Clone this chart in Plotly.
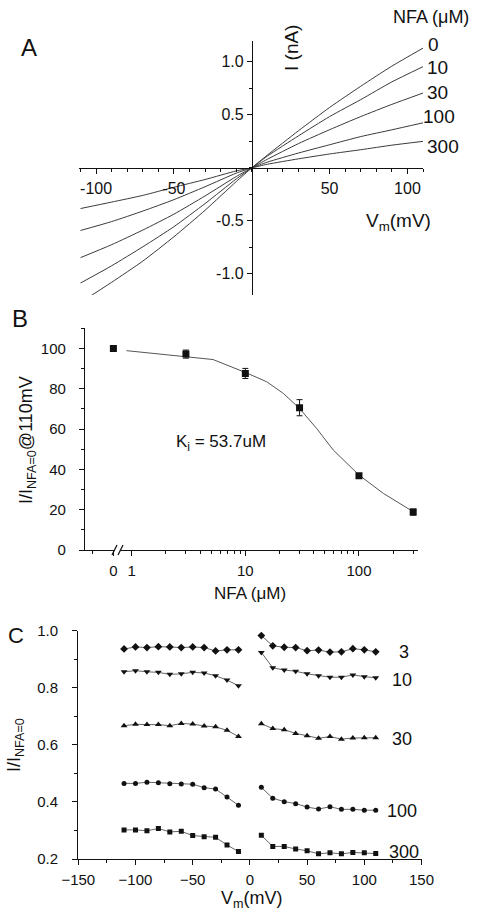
import plotly.graph_objects as go

W, H = 481, 913

# ---------------- Panel A data (I-V curves) ----------------
vm_a = [-110, -90, -70, -50, -30, -10, 0, 10, 30, 50, 70, 90, 110]
i_nfa0 = [-1.27, -1.08, -0.88, -0.65, -0.40, -0.13, 0, 0.12, 0.35, 0.57, 0.77, 0.96, 1.13]
i_nfa10 = [-1.087, -0.924, -0.745, -0.555, -0.337, -0.105, 0, 0.111, 0.302, 0.484, 0.644, 0.811, 0.955]
i_nfa30 = [-0.847, -0.725, -0.587, -0.437, -0.265, -0.082, 0, 0.081, 0.229, 0.360, 0.484, 0.599, 0.706]
i_nfa100 = [-0.591, -0.507, -0.408, -0.300, -0.178, -0.050, 0, 0.054, 0.140, 0.218, 0.295, 0.359, 0.425]
i_nfa300 = [-0.384, -0.323, -0.260, -0.183, -0.110, -0.029, 0, 0.034, 0.085, 0.131, 0.171, 0.214, 0.250]
a_labels = ["0", "10", "30", "100", "300"]

# ---------------- Panel B data (dose response) ----------------
nfa_b = [0, 3, 10, 30, 100, 300]
rel_b = [100, 97.2, 87.6, 70.6, 36.9, 18.8]
err_b = [0, 2.0, 2.5, 4.0, 1.0, 1.5]
fit_x = [0.9, 3.05, 5.2, 10, 15.4, 21.6, 30, 42.4, 59.4, 100, 163.7, 300]
fit_y = [98.9, 95.8, 94.5, 88.1, 83.5, 77.7, 70.2, 60.3, 49.6, 37.2, 28.1, 19.0]
ZERO_POS = 0.69  # where "0" sits on the broken log axis
ki_text = "K<sub>i</sub> = 53.7uM"

# ---------------- Panel C data (relative current vs Vm) ----------------
vm_neg = [-110, -100, -90, -80, -70, -60, -50, -40, -30, -20, -10]
vm_pos = [10, 20, 30, 40, 50, 60, 70, 80, 90, 100, 110]
c3_neg = [0.936, 0.943, 0.941, 0.944, 0.943, 0.941, 0.943, 0.941, 0.929, 0.933, 0.933]
c3_pos = [0.983, 0.947, 0.942, 0.941, 0.930, 0.932, 0.925, 0.926, 0.937, 0.933, 0.926]
c10_neg = [0.856, 0.860, 0.856, 0.854, 0.847, 0.849, 0.854, 0.852, 0.842, 0.827, 0.807]
c10_pos = [0.924, 0.870, 0.862, 0.858, 0.849, 0.842, 0.837, 0.837, 0.845, 0.839, 0.835]
c30_neg = [0.667, 0.672, 0.671, 0.671, 0.667, 0.675, 0.673, 0.666, 0.663, 0.651, 0.629]
c30_pos = [0.674, 0.657, 0.653, 0.640, 0.632, 0.623, 0.629, 0.620, 0.624, 0.625, 0.625]
c100_neg = [0.465, 0.465, 0.469, 0.467, 0.464, 0.463, 0.462, 0.450, 0.445, 0.417, 0.388]
c100_pos = [0.451, 0.413, 0.401, 0.394, 0.382, 0.375, 0.383, 0.374, 0.374, 0.371, 0.371]
c300_neg = [0.302, 0.302, 0.299, 0.307, 0.295, 0.297, 0.282, 0.278, 0.276, 0.249, 0.226]
c300_pos = [0.283, 0.244, 0.244, 0.235, 0.229, 0.218, 0.222, 0.218, 0.223, 0.222, 0.219]
c_labels = ["3", "10", "30", "100", "300"]


def px(x):
    return x / W


def py(y):
    return 1 - y / H


FONT = "Arial, Liberation Sans, sans-serif"
BLACK = "#111111"

fig = go.Figure()

# Panel A traces
for ys in [i_nfa0, i_nfa10, i_nfa30, i_nfa100, i_nfa300]:
    fig.add_trace(go.Scatter(x=vm_a, y=ys, mode="lines",
                             line=dict(color="#3a3a3a", width=1, shape="spline", smoothing=0.6),
                             xaxis="x", yaxis="y", showlegend=False, hoverinfo="skip"))

# Panel B traces
fig.add_trace(go.Scatter(x=fit_x, y=fit_y, mode="lines", line=dict(color="#555555", width=1),
                         xaxis="x2", yaxis="y2", showlegend=False))
xb = [ZERO_POS if v == 0 else v for v in nfa_b]
fig.add_trace(go.Scatter(x=xb, y=rel_b, mode="markers",
                         marker=dict(symbol="square", size=7, color=BLACK),
                         error_y=dict(type="data", array=err_b, visible=True, color=BLACK,
                                      thickness=1, width=3),
                         xaxis="x2", yaxis="y2", showlegend=False))

# Panel C traces
c_series = [
    (c3_neg, c3_pos, "diamond", 6),
    (c10_neg, c10_pos, "triangle-down", 6),
    (c30_neg, c30_pos, "triangle-up", 6),
    (c100_neg, c100_pos, "circle", 5),
    (c300_neg, c300_pos, "square", 5),
]
for neg, pos, sym, sz in c_series:
    for xs, ys in [(vm_neg, neg), (vm_pos, pos)]:
        fig.add_trace(go.Scatter(x=xs, y=ys, mode="lines+markers",
                                 line=dict(color="#666666", width=1),
                                 marker=dict(symbol=sym, size=sz, color=BLACK),
                                 xaxis="x3", yaxis="y3", showlegend=False))


def axis_style(size, standoff=0):
    return dict(showgrid=False, zeroline=False, showline=True, linecolor=BLACK, linewidth=1.3,
                ticks="outside", tickcolor=BLACK, tickwidth=1.3, ticklen=5, automargin=False,
                ticklabelstandoff=standoff,
                tickfont=dict(family=FONT, size=size, color=BLACK))


def minor(**kw):
    d = dict(ticks="outside", ticklen=3, tickcolor=BLACK, tickwidth=1)
    d.update(kw)
    return d


fig.update_layout(
    width=W, height=H,
    margin=dict(l=0, r=0, t=0, b=0, pad=0, autoexpand=False),
    paper_bgcolor="white", plot_bgcolor="white",
    font=dict(family=FONT, color=BLACK),
    # Panel A
    xaxis=dict(domain=[px(79), px(423)], range=[-111, 110], anchor="free", position=py(168.3),
               tickmode="array", tickvals=[-100, -50, 50, 100], ticktext=["-100", "-50", "50", "100"],
               minor=minor(dtick=10), **axis_style(16)),
    yaxis=dict(domain=[py(295), py(40.7)], range=[-1.2, 1.2], anchor="free", position=px(252),
               tickmode="array", tickvals=[-1.0, -0.5, 0.5, 1.0], ticktext=["-1.0", "-0.5", "0.5", "1.0"],
               minor=minor(dtick=0.25), **axis_style(16)),
    # Panel B
    xaxis2=dict(domain=[px(85), px(418.3)], type="log", range=[-0.411, 2.522], anchor="y2",
                tickmode="array", tickvals=[ZERO_POS, 1, 10, 100], ticktext=["0", "1", "10", "100"],
                minor=minor(tickmode="array",
                            tickvals=[0.45, 2, 3, 4, 5, 6, 7, 8, 9, 20, 30, 40, 50, 60, 70, 80, 90, 200, 300]),
                **axis_style(15, 2)),
    yaxis2=dict(domain=[py(550), py(328.3)], range=[0, 110], anchor="x2",
                tickmode="array", tickvals=[0, 20, 40, 60, 80, 100],
                minor=minor(dtick=10), **axis_style(15, 10)),
    # Panel C
    xaxis3=dict(domain=[px(78.3), px(421.5)], range=[-150, 150], anchor="y3",
                tickmode="array", tickvals=[-150, -100, -50, 0, 50, 100, 150],
                minor=minor(dtick=25), **axis_style(15, 2)),
    yaxis3=dict(domain=[py(859), py(630.7)], range=[0.2, 1.0], anchor="x3",
                tickmode="array", tickvals=[0.2, 0.4, 0.6, 0.8, 1.0], tickformat=".1f",
                minor=minor(dtick=0.1), **axis_style(15, 11)),
)

ann = []


def label(text, x, y, size, angle=0, xanchor="center"):
    ann.append(dict(text=text, x=px(x), y=py(y), xref="paper", yref="paper", showarrow=False,
                    xanchor=xanchor, yanchor="middle", textangle=angle,
                    font=dict(family=FONT, size=size, color=BLACK)))


# Panel A labels
label("A", 29, 47, 24)
label("NFA (μM)", 431, 17, 18)
a_label_pos = [(433, 45), (437, 68), (437, 92), (439, 117), (443, 146)]
for t, (x, y) in zip(a_labels, a_label_pos):
    label(t, x, y, 19)
label("I (nA)", 292, 48, 19, angle=-90)
label("V<sub>m</sub>(mV)", 398, 222, 19)

# Panel B labels
label("B", 20, 318, 24)
label("I/I<sub>NFA=0</sub>@110mV", 27, 440, 18, angle=-90)
label("NFA (μM)", 250, 593, 17)
label(ki_text, 221, 443, 17)

# Panel C labels
label("C", 16, 635, 22)
c_label_pos = [(404, 652), (402, 680), (402, 739), (402, 811), (404, 852)]
for t, (x, y) in zip(c_labels, c_label_pos):
    label(t, x, y, 18)
label("I/I<sub>NFA=0</sub>", 15, 745, 18, angle=-90)
label("V<sub>m</sub>(mV)", 252, 899, 18)

fig.update_layout(annotations=ann)

# axis break marks on panel B x-axis
shapes = [
    dict(type="rect", xref="paper", yref="paper", x0=px(114.5), x1=px(120.5), y0=py(552), y1=py(548),
         fillcolor="white", line=dict(width=0)),
    dict(type="line", xref="paper", yref="paper", x0=px(112), y0=py(555), x1=px(117), y1=py(545),
         line=dict(color=BLACK, width=1.2)),
    dict(type="line", xref="paper", yref="paper", x0=px(118), y0=py(555), x1=px(123), y1=py(545),
         line=dict(color=BLACK, width=1.2)),
]
fig.update_layout(shapes=shapes)

fig.write_html("out.html", config={"displayModeBar": False},
               post_script="document.body.style.margin='0px';document.body.style.overflow='hidden';")
